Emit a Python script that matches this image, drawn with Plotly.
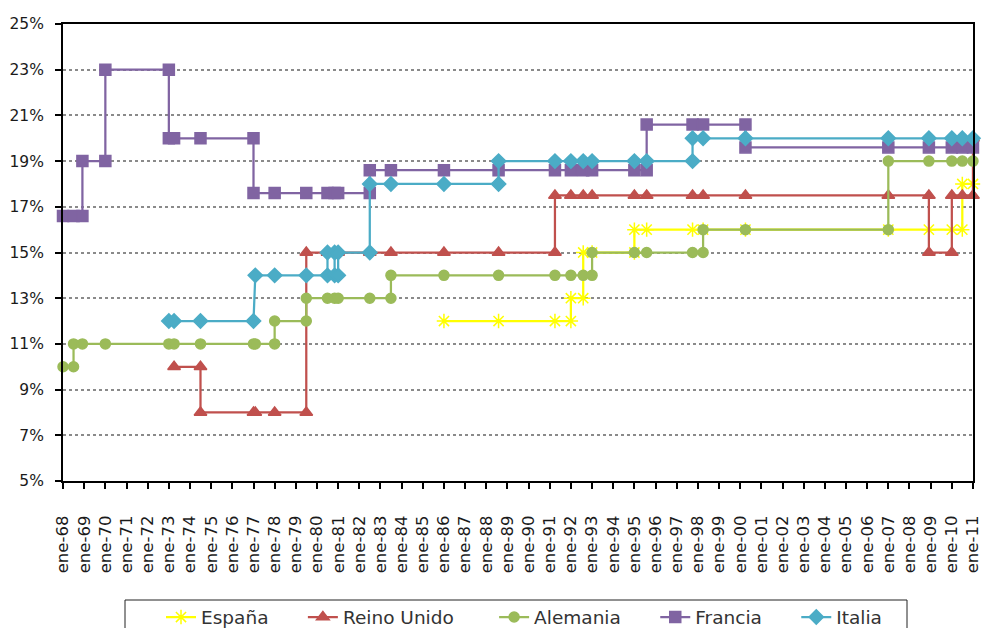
import plotly.graph_objects as go

# Eje X: un rótulo por año (enero de 1968 a enero de 2011)
years = list(range(1968, 2012))
tick_dates = [f"{y}-01-01" for y in years]
tick_labels = [
    "ene-68", "ene-69", "ene-70", "ene-71", "ene-72", "ene-73", "ene-74", "ene-75",
    "ene-76", "ene-77", "ene-78", "ene-79", "ene-80", "ene-81", "ene-82", "ene-83",
    "ene-84", "ene-85", "ene-86", "ene-87", "ene-88", "ene-89", "ene-90", "ene-91",
    "ene-92", "ene-93", "ene-94", "ene-95", "ene-96", "ene-97", "ene-98", "ene-99",
    "ene-00", "ene-01", "ene-02", "ene-03", "ene-04", "ene-05", "ene-06", "ene-07",
    "ene-08", "ene-09", "ene-10", "ene-11",
]

# Tipo general de IVA (%) - fechas repetidas marcan cada escalón
espana_fechas = [
    "1986-01-01", "1988-08-01", "1991-04-01", "1992-01-01", "1992-01-01", "1992-08-01",
    "1992-08-01", "1993-01-01", "1995-01-01", "1995-01-01", "1995-08-01", "1997-10-01",
    "1998-04-01", "2000-04-01", "2007-01-01", "2008-12-01", "2010-01-01", "2010-07-01",
    "2010-07-01", "2011-01-01",
]
espana_iva = [12, 12, 12, 12, 13, 13, 15, 15, 15, 16, 16, 16, 16, 16, 16, 16, 16, 16, 18, 18]

reino_fechas = [
    "1973-04-01", "1974-07-01", "1974-07-01", "1977-01-01", "1977-02-01", "1978-01-01",
    "1979-07-01", "1979-07-01", "1980-07-01", "1980-11-01", "1981-01-01", "1982-07-01",
    "1983-07-01", "1986-01-01", "1988-08-01", "1991-04-01", "1991-04-01", "1992-01-01",
    "1992-08-01", "1993-01-01", "1995-01-01", "1995-08-01", "1997-10-01", "1998-04-01",
    "2000-04-01", "2007-01-01", "2008-12-01", "2008-12-01", "2010-01-01", "2010-01-01",
    "2010-07-01", "2011-01-01", "2011-01-01",
]
reino_iva = [
    10, 10, 8, 8, 8, 8,
    8, 15, 15, 15, 15, 15,
    15, 15, 15, 15, 17.5, 17.5,
    17.5, 17.5, 17.5, 17.5, 17.5, 17.5,
    17.5, 17.5, 17.5, 15, 15, 17.5,
    17.5, 17.5, 20,
]

alemania_fechas = [
    "1968-01-01", "1968-07-01", "1968-07-01", "1968-12-01", "1970-01-01", "1973-01-01",
    "1973-04-01", "1974-07-01", "1977-01-01", "1977-02-01", "1978-01-01", "1978-01-01",
    "1979-07-01", "1979-07-01", "1980-07-01", "1980-11-01", "1981-01-01", "1982-07-01",
    "1983-07-01", "1983-07-01", "1986-01-01", "1988-08-01", "1991-04-01", "1992-01-01",
    "1992-08-01", "1993-01-01", "1993-01-01", "1995-01-01", "1995-08-01", "1997-10-01",
    "1998-04-01", "1998-04-01", "2000-04-01", "2007-01-01", "2007-01-01", "2008-12-01",
    "2010-01-01", "2010-07-01", "2011-01-01",
]
alemania_iva = [
    10, 10, 11, 11, 11, 11,
    11, 11, 11, 11, 11, 12,
    12, 13, 13, 13, 13, 13,
    13, 14, 14, 14, 14, 14,
    14, 14, 15, 15, 15, 15,
    15, 16, 16, 16, 19, 19,
    19, 19, 19,
]

francia_fechas = [
    "1968-01-01", "1968-07-01", "1968-12-01", "1968-12-01", "1970-01-01", "1970-01-01",
    "1973-01-01", "1973-01-01", "1973-04-01", "1974-07-01", "1977-01-01", "1977-01-01",
    "1978-01-01", "1979-07-01", "1980-07-01", "1980-11-01", "1981-01-01", "1982-07-01",
    "1982-07-01", "1983-07-01", "1986-01-01", "1988-08-01", "1991-04-01", "1992-01-01",
    "1992-08-01", "1993-01-01", "1995-01-01", "1995-08-01", "1995-08-01", "1997-10-01",
    "1998-04-01", "2000-04-01", "2000-04-01", "2007-01-01", "2008-12-01", "2010-01-01",
    "2010-07-01", "2011-01-01",
]
francia_iva = [
    16.6, 16.6, 16.6, 19, 19, 23,
    23, 20, 20, 20, 20, 17.6,
    17.6, 17.6, 17.6, 17.6, 17.6, 17.6,
    18.6, 18.6, 18.6, 18.6, 18.6, 18.6,
    18.6, 18.6, 18.6, 18.6, 20.6, 20.6,
    20.6, 20.6, 19.6, 19.6, 19.6, 19.6,
    19.6, 19.6,
]

italia_fechas = [
    "1973-01-01", "1973-04-01", "1974-07-01", "1977-01-01", "1977-02-01", "1978-01-01",
    "1979-07-01", "1980-07-01", "1980-07-01", "1980-11-01", "1980-11-01", "1981-01-01",
    "1981-01-01", "1982-07-01", "1982-07-01", "1983-07-01", "1986-01-01", "1988-08-01",
    "1988-08-01", "1991-04-01", "1992-01-01", "1992-08-01", "1993-01-01", "1995-01-01",
    "1995-08-01", "1997-10-01", "1997-10-01", "1998-04-01", "2000-04-01", "2007-01-01",
    "2008-12-01", "2010-01-01", "2010-07-01", "2011-01-01",
]
italia_iva = [
    12, 12, 12, 12, 14, 14,
    14, 14, 15, 15, 14, 14,
    15, 15, 18, 18, 18, 18,
    19, 19, 19, 19, 19, 19,
    19, 19, 20, 20, 20, 20,
    20, 20, 20, 20,
]

# nombre, fechas, valores, color, símbolo, tamaño, relleno tras el nombre en la leyenda
NBSP = "\u00a0"
series = [
    ("España", espana_fechas, espana_iva, "#FFFF00", "asterisk-open", 12, 5),
    ("Reino Unido", reino_fechas, reino_iva, "#C0504D", "triangle-up", 11, 6),
    ("Alemania", alemania_fechas, alemania_iva, "#9BBB59", "circle", 10, 5),
    ("Francia", francia_fechas, francia_iva, "#8064A2", "square", 11, 5),
    ("Italia", italia_fechas, italia_iva, "#4BACC6", "diamond", 11, 0),
]

fig = go.Figure()
for name, fechas, iva, color, symbol, size, pad in series:
    fig.add_trace(go.Scatter(
        x=fechas, y=iva, name=name + NBSP * pad, mode="lines+markers",
        line=dict(color=color, width=2.25),
        marker=dict(symbol=symbol, size=size, color=color,
                    line=dict(color=color, width=1.5)),
        cliponaxis=False,
    ))

# Área de trazado en píxeles: x 63..973, y 24..481
plot_l, plot_r, plot_t, plot_b = 63, 973, 24, 481
plot_w, plot_h = plot_r - plot_l, plot_b - plot_t


def px_x(px):
    return (px - plot_l) / plot_w


def px_y(py):
    return (plot_b - py) / plot_h


font_family = "DejaVu Sans"
fig.update_layout(
    width=982, height=628,
    margin=dict(l=plot_l, r=982 - plot_r, t=plot_t, b=628 - plot_b, autoexpand=False),
    paper_bgcolor="white", plot_bgcolor="white",
    font=dict(family=font_family, color="#1a1a1a"),
    showlegend=True,
    legend=dict(
        orientation="h", x=px_x(161), xanchor="left", y=px_y(598.5), yanchor="top",
        borderwidth=0, bgcolor="rgba(0,0,0,0)",
        font=dict(size=18.5, color="#333"),
        itemsizing="trace",
    ),
    shapes=[
        # marco de la leyenda
        dict(type="rect", xref="paper", yref="paper",
             x0=px_x(125), x1=px_x(907), y0=px_y(700), y1=px_y(600),
             line=dict(color="#222", width=1), fillcolor="rgba(0,0,0,0)",
             layer="below"),
    ],
)
fig.update_xaxes(
    type="date", range=["1968-01-01", "2011-01-01 12:00"],
    tickmode="array", tickvals=tick_dates, ticktext=tick_labels,
    tickangle=-90, tickfont=dict(size=16.5),
    ticks="outside", ticklen=6, tickwidth=2, tickcolor="black",
    ticklabelstandoff=20, ticklabeloverflow="allow",
    showgrid=False, zeroline=False,
    showline=True, linecolor="black", linewidth=2, mirror=True,
)
fig.update_yaxes(
    range=[5, 25], tickmode="linear", tick0=5, dtick=2, ticksuffix="%",
    tickfont=dict(size=15.5),
    ticks="outside", ticklen=6, tickwidth=2, tickcolor="black",
    ticklabelstandoff=8,
    showgrid=True, gridcolor="#8a8a8a", gridwidth=1.5, griddash="dot",
    zeroline=False,
    showline=True, linecolor="black", linewidth=2, mirror=True,
)

fig.write_html("out.html")
